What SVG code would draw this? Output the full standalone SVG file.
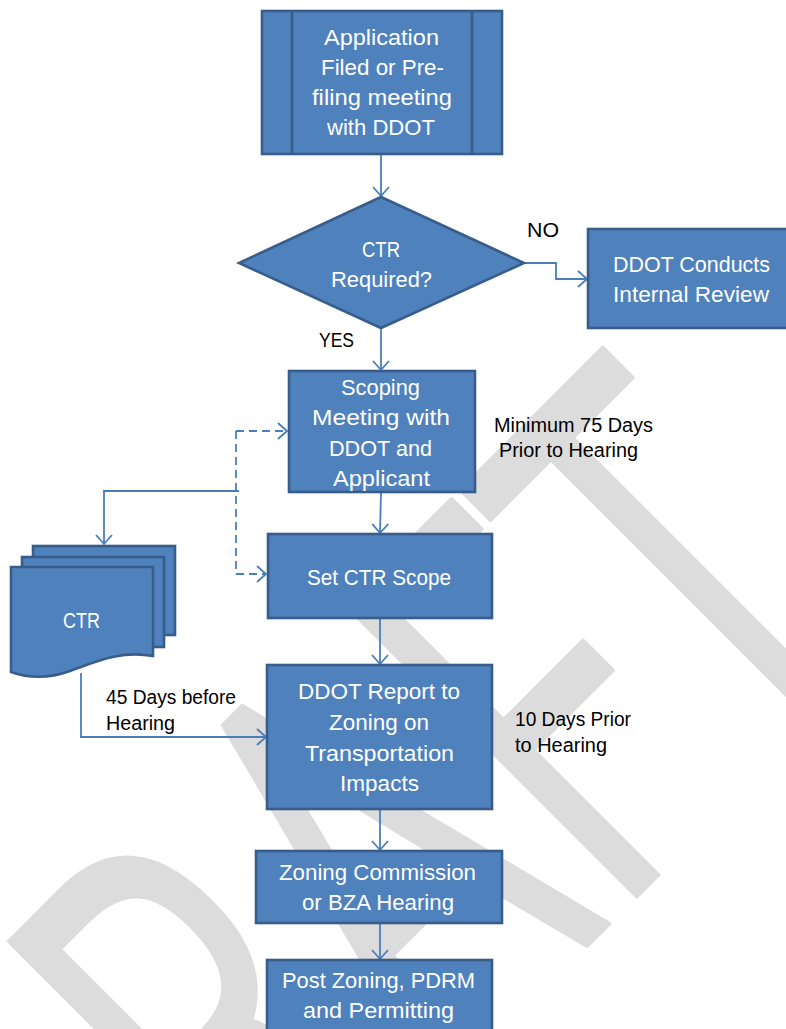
<svg xmlns="http://www.w3.org/2000/svg" width="786" height="1029" viewBox="0 0 786 1029">
<defs>
<style>
.node{fill:#4f81bd;stroke:#385d8a;stroke-width:2.6}
.nt{font-family:"Liberation Sans",Arial,sans-serif;font-size:22px;fill:#ffffff}
.lb{font-family:"Liberation Sans",Arial,sans-serif;font-size:19.5px;fill:#000000}
.cn{fill:none;stroke:#4a7ebb;stroke-width:1.8}
.dash{stroke-dasharray:8 5}
.wm{font-family:"Open Sans","DejaVu Sans",sans-serif;font-size:577px;fill:#dcdcdc;stroke:#dcdcdc;stroke-width:4;stroke-linejoin:round}
</style>
<marker id="arr" viewBox="-10 -9 12 18" refX="0" refY="0" markerWidth="12" markerHeight="18" markerUnits="userSpaceOnUse" orient="auto">
<path d="M-9,-8 L0,0 L-9,8" fill="none" stroke="#4a7ebb" stroke-width="1.8"/>
</marker>
</defs>
<rect width="786" height="1029" fill="#ffffff"/>
<g id="watermark">
<text class="wm" transform="rotate(-45) scale(0.66,1)" x="-1475" y="1084">DRAFT</text>
</g>
<g id="connectors">
<path class="cn" d="M381,155 V196" marker-end="url(#arr)"/>
<path class="cn" d="M524,263 H556 V279 H587" marker-end="url(#arr)"/>
<path class="cn" d="M381,328 V370" marker-end="url(#arr)"/>
<path class="cn" d="M381,492 L380,533" marker-end="url(#arr)"/>
<path class="cn" d="M380,618 V664" marker-end="url(#arr)"/>
<path class="cn" d="M380,809 V850" marker-end="url(#arr)"/>
<path class="cn" d="M380,923 V959" marker-end="url(#arr)"/>
<path class="cn dash" d="M236,431 H287" marker-end="url(#arr)"/>
<path class="cn dash" d="M236,431 V574 H266" marker-end="url(#arr)"/>
<path class="cn" d="M239,491 H104 V544" marker-end="url(#arr)"/>
<path class="cn" d="M81,673 V737 H266" marker-end="url(#arr)"/>
</g>
<g id="n-application">
<rect class="node" x="262" y="11" width="240" height="143"/>
<line class="node" x1="292" y1="11" x2="292" y2="154"/>
<line class="node" x1="472" y1="11" x2="472" y2="154"/>
<text class="nt" x="324" y="45" textLength="115" lengthAdjust="spacingAndGlyphs">Application</text>
<text class="nt" x="321" y="75" textLength="123" lengthAdjust="spacingAndGlyphs">Filed or Pre-</text>
<text class="nt" x="312" y="105" textLength="140" lengthAdjust="spacingAndGlyphs">filing meeting</text>
<text class="nt" x="327" y="135" textLength="108" lengthAdjust="spacingAndGlyphs">with DDOT</text>
</g>
<g id="n-decision">
<polygon class="node" points="381,197 524,263 381,328 239,263"/>
<text class="nt" x="362" y="257" textLength="38" lengthAdjust="spacingAndGlyphs">CTR</text>
<text class="nt" x="331" y="287" textLength="101" lengthAdjust="spacingAndGlyphs">Required?</text>
</g>
<g id="n-internal">
<rect class="node" x="588" y="229" width="215" height="99"/>
<text class="nt" x="613" y="272" textLength="157" lengthAdjust="spacingAndGlyphs">DDOT Conducts</text>
<text class="nt" x="613" y="302" textLength="156" lengthAdjust="spacingAndGlyphs">Internal Review</text>
</g>
<g id="n-scoping">
<rect class="node" x="289" y="371" width="186" height="121"/>
<text class="nt" x="341" y="395" textLength="79" lengthAdjust="spacingAndGlyphs">Scoping</text>
<text class="nt" x="312" y="425" textLength="138" lengthAdjust="spacingAndGlyphs">Meeting with</text>
<text class="nt" x="329" y="456" textLength="103" lengthAdjust="spacingAndGlyphs">DDOT and</text>
<text class="nt" x="333" y="486" textLength="97" lengthAdjust="spacingAndGlyphs">Applicant</text>
</g>
<g id="n-scope">
<rect class="node" x="268" y="534" width="224" height="84"/>
<text class="nt" x="307" y="585" textLength="144" lengthAdjust="spacingAndGlyphs">Set CTR Scope</text>
</g>
<g id="n-ctr">
<rect class="node" x="33" y="546" width="142" height="89"/>
<rect class="node" x="22" y="557" width="142" height="90"/>
<path class="node" d="M11,567 H153 V656 C120,650 95,662 70,671 C45,680 25,677 11,672 Z"/>
<text class="nt" x="63" y="628" textLength="37" lengthAdjust="spacingAndGlyphs">CTR</text>
</g>
<g id="n-report">
<rect class="node" x="267" y="665" width="225" height="144"/>
<text class="nt" x="298" y="699" textLength="162" lengthAdjust="spacingAndGlyphs">DDOT Report to</text>
<text class="nt" x="329" y="730" textLength="100" lengthAdjust="spacingAndGlyphs">Zoning on</text>
<text class="nt" x="305" y="761" textLength="149" lengthAdjust="spacingAndGlyphs">Transportation</text>
<text class="nt" x="340" y="791" textLength="79" lengthAdjust="spacingAndGlyphs">Impacts</text>
</g>
<g id="n-hearing">
<rect class="node" x="256" y="851" width="246" height="72"/>
<text class="nt" x="279" y="880" textLength="197" lengthAdjust="spacingAndGlyphs">Zoning Commission</text>
<text class="nt" x="302" y="910" textLength="152" lengthAdjust="spacingAndGlyphs">or BZA Hearing</text>
</g>
<g id="n-post">
<rect class="node" x="267" y="960" width="225" height="90"/>
<text class="nt" x="282" y="988" textLength="193" lengthAdjust="spacingAndGlyphs">Post Zoning, PDRM</text>
<text class="nt" x="303" y="1018" textLength="151" lengthAdjust="spacingAndGlyphs">and Permitting</text>
</g>
<g id="labels">
<text class="lb" x="527" y="237" textLength="32" lengthAdjust="spacingAndGlyphs">NO</text>
<text class="lb" x="319" y="347" textLength="35" lengthAdjust="spacingAndGlyphs">YES</text>
<text class="lb" x="494" y="432" textLength="159" lengthAdjust="spacingAndGlyphs">Minimum 75 Days</text>
<text class="lb" x="499" y="457" textLength="139" lengthAdjust="spacingAndGlyphs">Prior to Hearing</text>
<text class="lb" x="515" y="726" textLength="116" lengthAdjust="spacingAndGlyphs">10 Days Prior</text>
<text class="lb" x="515" y="752" textLength="92" lengthAdjust="spacingAndGlyphs">to Hearing</text>
<text class="lb" x="106" y="704" textLength="130" lengthAdjust="spacingAndGlyphs">45 Days before</text>
<text class="lb" x="106" y="730" textLength="69" lengthAdjust="spacingAndGlyphs">Hearing</text>
</g>
</svg>
